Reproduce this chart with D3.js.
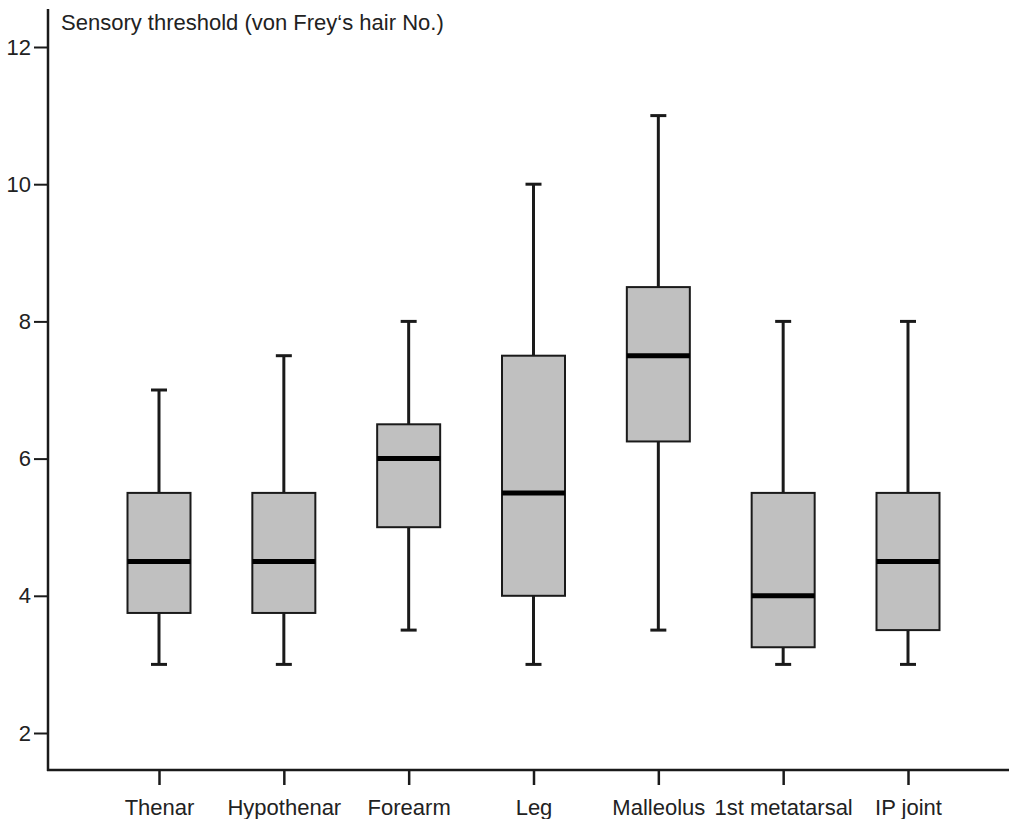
<!DOCTYPE html>
<html>
<head>
<meta charset="utf-8">
<script src="https://cdn.jsdelivr.net/npm/d3@7"></script>
<style>
html,body{margin:0;padding:0;background:#fff;}
svg{display:block;font-family:"Liberation Sans",Arial,sans-serif;}
</style>
</head>
<body>
<svg id="chart" width="1009" height="819"></svg>
<script>
const categories = ["Thenar","Hypothenar","Forearm","Leg","Malleolus","1st metatarsal","IP joint"];
const whiskerLow  = [3, 3, 3.5, 3, 3.5, 3, 3];
const q1          = [3.75, 3.75, 5, 4, 6.25, 3.25, 3.5];
const medians     = [4.5, 4.5, 6, 5.5, 7.5, 4, 4.5];
const q3          = [5.5, 5.5, 6.5, 7.5, 8.5, 5.5, 5.5];
const whiskerHigh = [7, 7.5, 8, 10, 11, 8, 8];
const yTicks = [2, 4, 6, 8, 10, 12];
const yTitle = "Sensory threshold (von Frey\u2018s hair No.)";

const svg = d3.select("#chart");
const axisX = 48, axisY = 770;
const x = d3.scalePoint().domain(categories).range([159, 908]);
const y = d3.scaleLinear().domain([2, 12]).range([733, 47]);
const boxW = 63, capW = 16;
const ink = "#1a1a1a";
const fs = 22;

const data = categories.map((c, i) => ({c, lo: whiskerLow[i], q1: q1[i], med: medians[i], q3: q3[i], hi: whiskerHigh[i]}));

const g = svg.append("g");
const box = g.selectAll("g.box").data(data).join("g").attr("class", "box");
// whiskers
box.append("line").attr("x1", d => x(d.c)).attr("x2", d => x(d.c))
  .attr("y1", d => y(d.hi)).attr("y2", d => y(d.q3)).attr("stroke", ink).attr("stroke-width", 3);
box.append("line").attr("x1", d => x(d.c)).attr("x2", d => x(d.c))
  .attr("y1", d => y(d.q1)).attr("y2", d => y(d.lo)).attr("stroke", ink).attr("stroke-width", 3);
box.append("line").attr("x1", d => x(d.c) - capW/2).attr("x2", d => x(d.c) + capW/2)
  .attr("y1", d => y(d.hi)).attr("y2", d => y(d.hi)).attr("stroke", ink).attr("stroke-width", 3);
box.append("line").attr("x1", d => x(d.c) - capW/2).attr("x2", d => x(d.c) + capW/2)
  .attr("y1", d => y(d.lo)).attr("y2", d => y(d.lo)).attr("stroke", ink).attr("stroke-width", 3);
// box
box.append("rect").attr("x", d => x(d.c) - boxW/2).attr("width", boxW)
  .attr("y", d => y(d.q3)).attr("height", d => y(d.q1) - y(d.q3))
  .attr("fill", "#c0c0c0").attr("stroke", ink).attr("stroke-width", 2);
// median
box.append("line").attr("x1", d => x(d.c) - boxW/2).attr("x2", d => x(d.c) + boxW/2)
  .attr("y1", d => y(d.med)).attr("y2", d => y(d.med)).attr("stroke", "#000").attr("stroke-width", 5);

// y axis
const ya = svg.append("g").attr("transform", `translate(${axisX},0)`)
  .call(d3.axisLeft(y).tickValues(yTicks).tickSize(14).tickSizeOuter(0).tickPadding(3));
ya.attr("font-size", fs).attr("font-family", "Liberation Sans, Arial, sans-serif");
ya.select(".domain").remove();
ya.selectAll(".tick line").attr("stroke", ink).attr("stroke-width", 2);
ya.selectAll(".tick text").attr("fill", "#222");
svg.append("line").attr("x1", axisX).attr("x2", axisX).attr("y1", 9).attr("y2", axisY + 1)
  .attr("stroke", ink).attr("stroke-width", 2.5);

// x axis
const xa = svg.append("g").attr("transform", `translate(0,${axisY})`)
  .call(d3.axisBottom(x).tickSize(15).tickSizeOuter(0).tickPadding(14));
xa.attr("font-size", fs).attr("font-family", "Liberation Sans, Arial, sans-serif");
xa.select(".domain").remove();
xa.selectAll(".tick line").attr("stroke", ink).attr("stroke-width", 2.5);
xa.selectAll(".tick text").attr("fill", "#222");
svg.append("line").attr("x1", axisX - 1).attr("x2", 1009).attr("y1", axisY).attr("y2", axisY)
  .attr("stroke", ink).attr("stroke-width", 2.5);

// title
svg.append("text").attr("x", 61).attr("y", 30).attr("font-size", fs).attr("fill", "#222")
  .text(yTitle);
</script>
</body>
</html>
